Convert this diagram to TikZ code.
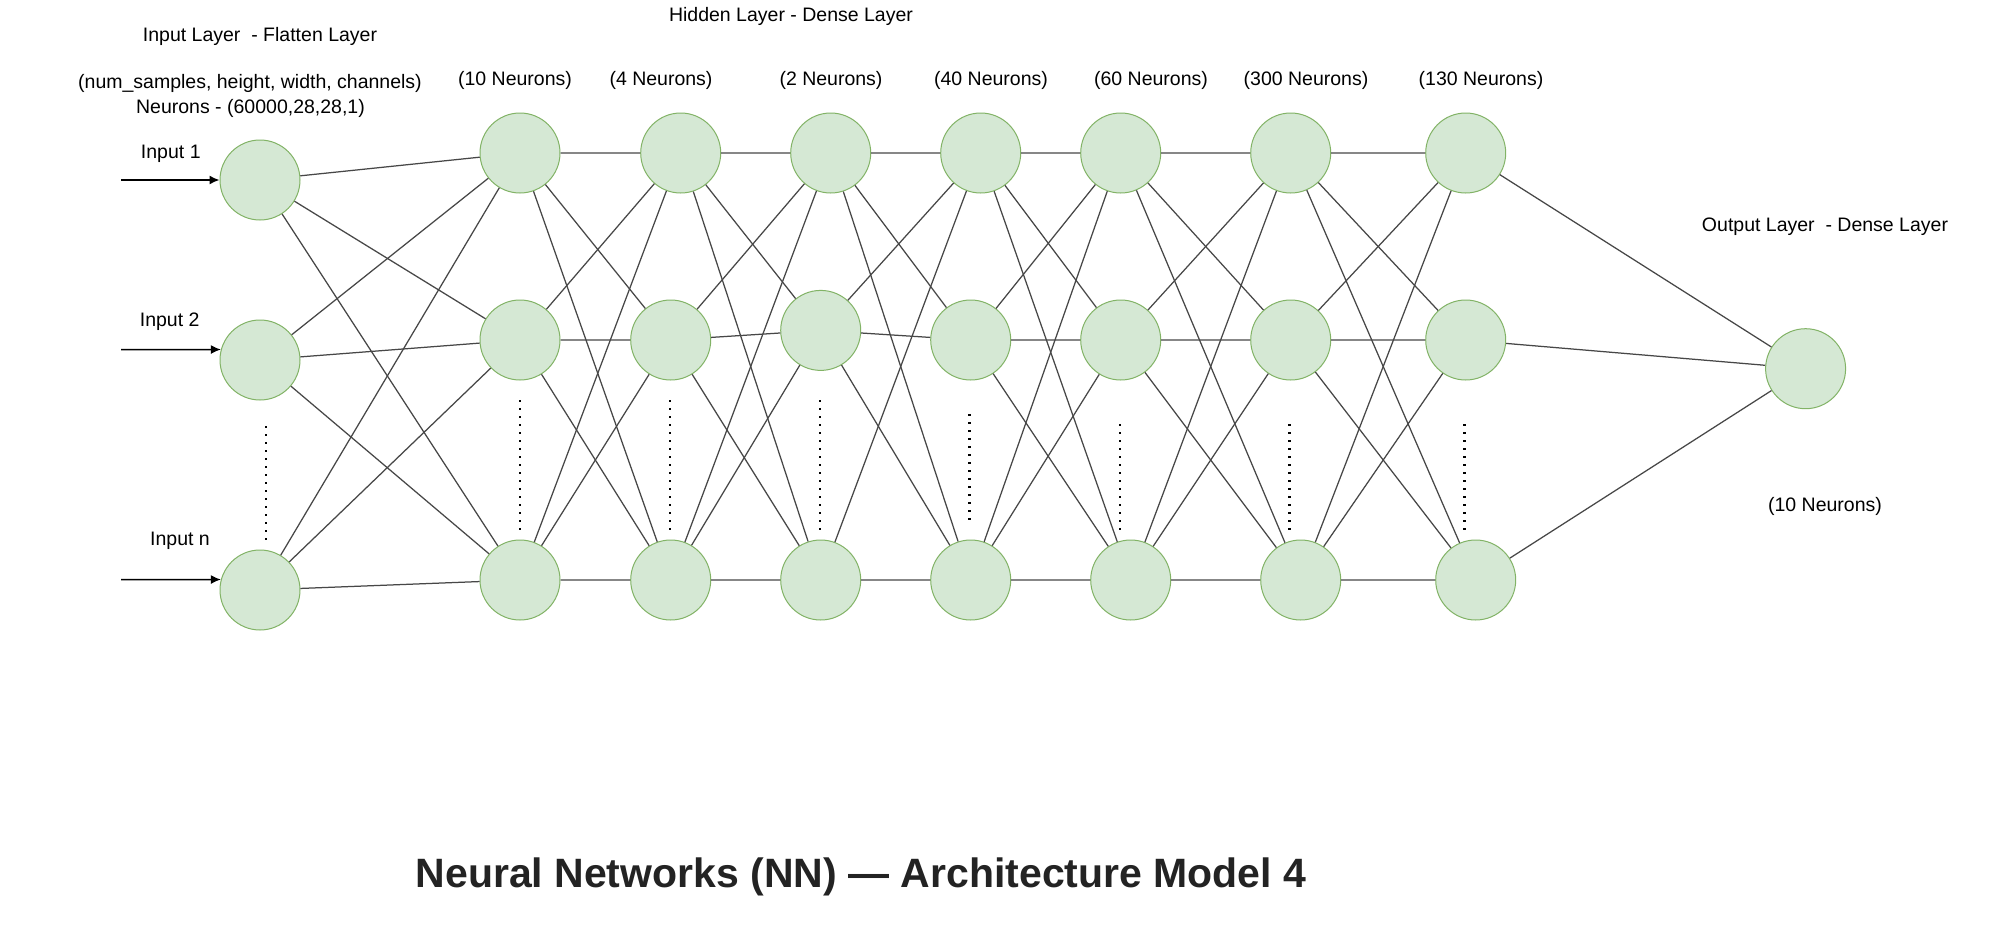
\documentclass[tikz,border=0pt]{standalone}
\usepackage{fontspec}
\setmainfont{Liberation Sans}
\usepackage{tikz}
\usepackage{xcolor}
\usetikzlibrary{arrows.meta}

\definecolor{nfill}{HTML}{D5E8D4}
\definecolor{nedge}{HTML}{82B366}
\definecolor{wire}{HTML}{474747}
\definecolor{titlegray}{HTML}{232323}

\tikzset{
  neuron/.style={circle, draw=nedge, fill=nfill, line width=1pt, minimum size=80pt, inner sep=0pt},
  link/.style={draw=wire, line width=1.25pt},
  feed/.style={-{Latex[length=10pt,width=9pt]}, line width=1.5pt},
  vdots/.style={line width=2.4pt, dash pattern=on 2.4pt off 5.6pt},
  lbl/.style={font=\fontsize{19.5}{23}\selectfont, inner sep=0pt},
}

\begin{document}
\begin{tikzpicture}[x=1pt, y=-1pt]
    \useasboundingbox[fill=white] (0,0) rectangle (2006,932);

    % input layer
    \node[neuron] (in1) at (260,180) {};
    \node[neuron] (in2) at (260,360) {};
    \node[neuron] (inN) at (260,590) {};
    \coordinate (s1) at (121,180);
    \coordinate (s2) at (121,349.6);
    \coordinate (s3) at (121,579.6);
    \draw[feed] (s1) -- (in1.west);
    \draw[feed] (s2) -- (in2.165);
    \draw[feed] (s3) -- (inN.165);

    % hidden layers
    \node[neuron] (h1a) at (520,153) {};
    \node[neuron] (h1b) at (520,340) {};
    \node[neuron] (h1c) at (520,580) {};
    \node[neuron] (h2a) at (680.7,153) {};
    \node[neuron] (h2b) at (670.7,340) {};
    \node[neuron] (h2c) at (670.7,580) {};
    \node[neuron] (h3a) at (830.7,153) {};
    \node[neuron] (h3b) at (820.7,330.4) {};
    \node[neuron] (h3c) at (820.7,580) {};
    \node[neuron] (h4a) at (980.7,153) {};
    \node[neuron] (h4b) at (970.7,340) {};
    \node[neuron] (h4c) at (970.7,580) {};
    \node[neuron] (h5a) at (1120.7,153) {};
    \node[neuron] (h5b) at (1120.7,340) {};
    \node[neuron] (h5c) at (1130.7,580) {};
    \node[neuron] (h6a) at (1290.7,153) {};
    \node[neuron] (h6b) at (1290.7,340) {};
    \node[neuron] (h6c) at (1300.7,580) {};
    \node[neuron] (h7a) at (1465.7,153) {};
    \node[neuron] (h7b) at (1465.7,340) {};
    \node[neuron] (h7c) at (1475.7,580) {};

    % output layer
    \node[neuron] (out) at (1805.6,368.7) {};

    % connections
    \draw[link] (in1) -- (h1a) (in1) -- (h1b) (in1) -- (h1c);
    \draw[link] (in2) -- (h1a) (in2) -- (h1b) (in2) -- (h1c);
    \draw[link] (inN) -- (h1a) (inN) -- (h1b) (inN) -- (h1c);
    \draw[link] (h1a) -- (h2a) (h1a) -- (h2b) (h1a) -- (h2c);
    \draw[link] (h1b) -- (h2a) (h1b) -- (h2b) (h1b) -- (h2c);
    \draw[link] (h1c) -- (h2a) (h1c) -- (h2b) (h1c) -- (h2c);
    \draw[link] (h2a) -- (h3a) (h2a) -- (h3b) (h2a) -- (h3c);
    \draw[link] (h2b) -- (h3a) (h2b) -- (h3b) (h2b) -- (h3c);
    \draw[link] (h2c) -- (h3a) (h2c) -- (h3b) (h2c) -- (h3c);
    \draw[link] (h3a) -- (h4a) (h3a) -- (h4b) (h3a) -- (h4c);
    \draw[link] (h3b) -- (h4a) (h3b) -- (h4b) (h3b) -- (h4c);
    \draw[link] (h3c) -- (h4a) (h3c) -- (h4c);
    \draw[link] (h4a) -- (h5a) (h4a) -- (h5b) (h4a) -- (h5c);
    \draw[link] (h4b) -- (h5a) (h4b) -- (h5b) (h4b) -- (h5c);
    \draw[link] (h4c) -- (h5a) (h4c) -- (h5b) (h4c) -- (h5c);
    \draw[link] (h5a) -- (h6a) (h5a) -- (h6b) (h5a) -- (h6c);
    \draw[link] (h5b) -- (h6a) (h5b) -- (h6b) (h5b) -- (h6c);
    \draw[link] (h5c) -- (h6a) (h5c) -- (h6b) (h5c) -- (h6c);
    \draw[link] (h6a) -- (h7a) (h6a) -- (h7b) (h6a) -- (h7c);
    \draw[link] (h6b) -- (h7a) (h6b) -- (h7b) (h6b) -- (h7c);
    \draw[link] (h6c) -- (h7a) (h6c) -- (h7b) (h6c) -- (h7c);
    \draw[link] (h7a) -- (out) (h7b) -- (out) (h7c) -- (out);

    % dotted gaps
    \draw[vdots] (265.7,426) -- (265.7,540);
    \draw[vdots] (520,400) -- (520,530);
    \draw[vdots] (670,400) -- (670,530);
    \draw[vdots] (820,400) -- (820,530);
    \draw[vdots] (969.3,414) -- (969.3,520);
    \draw[vdots] (1119.7,424) -- (1119.7,530);
    \draw[vdots] (1289.3,424) -- (1289.3,530);
    \draw[vdots] (1464.3,424) -- (1464.3,530);

    % labels
    \node[lbl] (inlayer) at (260,36.5) {Input Layer \ - Flatten Layer};
    \node[lbl] (hidlayer) at (791,16) {Hidden Layer - Dense Layer};
    \node[lbl] (shape) at (250,83.3) {(num\_samples, height, width, channels)};
    \node[lbl] (inneur) at (250.5,108.3) {Neurons - (60000,28,28,1)};
    \node[lbl] (lab1) at (170.8,154) {Input 1};
    \node[lbl] (lab2) at (169.7,321.7) {Input 2};
    \node[lbl] (labN) at (180,541) {Input n};
    \node[lbl] (n1) at (515,80.7) {(10 Neurons)};
    \node[lbl] (n2) at (661,80.7) {(4 Neurons)};
    \node[lbl] (n3) at (831,80.7) {(2 Neurons)};
    \node[lbl] (n4) at (991,80.7) {(40 Neurons)};
    \node[lbl] (n5) at (1151,80.7) {(60 Neurons)};
    \node[lbl] (n6) at (1306,80.7) {(300 Neurons)};
    \node[lbl] (n7) at (1481,80.7) {(130 Neurons)};
    \node[lbl] (outlayer) at (1825,226.7) {Output Layer \ - Dense Layer};
    \node[lbl] (outneur) at (1825,506.7) {(10 Neurons)};
    \node[font=\fontsize{41}{48}\selectfont\bfseries, text=titlegray, anchor=base, inner sep=0pt] (title) at (861,887.7) {Neural Networks (NN) — Architecture Model 4};
\end{tikzpicture}
\end{document}
